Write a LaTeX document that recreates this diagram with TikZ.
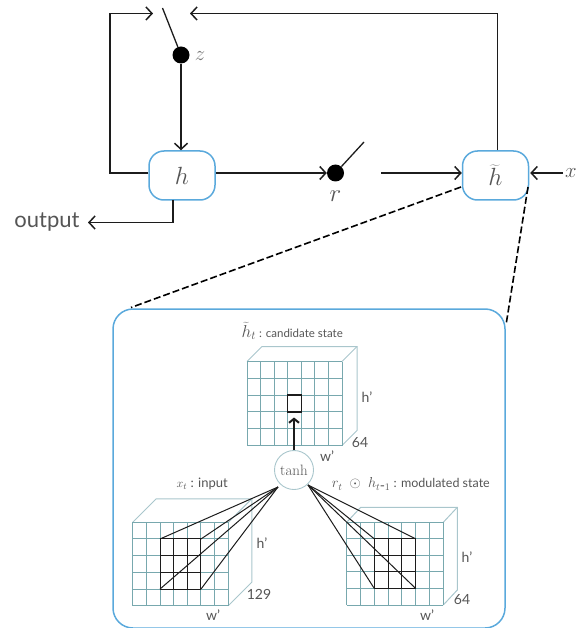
\documentclass[tikz,border=0pt]{standalone}
\usepackage{fontspec}
\setmainfont{Lato}
\usetikzlibrary{arrows.meta,calc}
\definecolor{boxblue}{HTML}{5AA9DC}
\definecolor{gridc}{HTML}{78A8AE}
\definecolor{backc}{HTML}{A9C6CC}
\definecolor{txt}{HTML}{555555}
\definecolor{ink}{HTML}{1C1C1C}
\tikzset{
  conn/.style={draw=ink,line width=1.5pt},
  arr/.style={conn,-{Straight Barb[length=6pt,width=13pt,line width=1.5pt]}},
  sw/.style={draw=ink,line width=1.3pt},
  statebox/.style={draw=boxblue,line width=1.5pt,rounded corners=15pt,minimum width=66pt,minimum height=49pt,inner sep=0pt,fill=white,text=txt},
  swdot/.style={circle,fill=black,minimum size=17pt,inner sep=0pt},
  dash line/.style={draw=black,line width=1.6pt,dash pattern=on 7pt off 3pt},
  lab/.style={text=txt,inner sep=0pt},
  mlab/.style={text=txt,inner sep=0pt,font=\fontsize{14}{16}\selectfont},
  grid line/.style={draw=gridc,line width=1pt},
  back line/.style={draw=backc,line width=1pt},
  kernel/.style={draw=ink,line width=1pt},
}
% #1 x0, #2 y0, #3 x1, #4 y1, #5 dx, #6 dy (back offset)
\newcommand{\gridcube}[6]{%
  \draw[back line] (#1,#2) -- (#1+#5,#2-#6) -- (#3+#5,#2-#6) -- (#3+#5,#4-#6) -- (#3,#4);
  \draw[back line] (#3,#2) -- (#3+#5,#2-#6);
  \foreach \i in {0,...,7} \draw[grid line] ({#1+\i*(#3-#1)/7},#2) -- ({#1+\i*(#3-#1)/7},#4);
  \foreach \j in {0,...,5} \draw[grid line] (#1,{#2+\j*(#4-#2)/5}) -- (#3,{#2+\j*(#4-#2)/5});
}
% #1 x0 #2 y0 #3 x1 #4 y1 of grid, #5 name of apex node
\newcommand{\kernelbox}[5]{%
  \pgfmathsetmacro{\cw}{(#3-#1)/7}\pgfmathsetmacro{\ch}{(#4-#2)/5}
  \foreach \i in {2,...,5} \draw[kernel] ({#1+\i*\cw},{#2+\ch}) -- ({#1+\i*\cw},{#2+4*\ch});
  \foreach \j in {1,...,4} \draw[kernel] ({#1+2*\cw},{#2+\j*\ch}) -- ({#1+5*\cw},{#2+\j*\ch});
  \foreach \i/\j in {2/1,5/1,2/4,5/4} \draw[kernel] (#5) -- ({#1+\i*\cw},{#2+\j*\ch});
}
\begin{document}
\begin{tikzpicture}[x=1pt,y=-1pt]
\useasboundingbox (0,0) rectangle (577,628);
% top part
\node[statebox] (h) at (182,175.5) {\fontsize{27}{29}\selectfont$h$};
\node[statebox] (ht) at (495.5,175.5) {\fontsize{27}{29}\selectfont$\widetilde{h}$};
\node[swdot] (zd) at (181,55) {};
\node[swdot] (rd) at (335.5,173) {};
\coordinate (zarm) at (162.5,8);
\coordinate (rarm) at (364,142);
\coordinate (topl) at (153,13.5);
\coordinate (topr) at (190,13.5);
\coordinate (rout) at (381,173);
\coordinate (xin) at (563,173);
\coordinate (outp) at (88,222.5);
\coordinate (cornl) at (110,13.5);
\coordinate (cornr) at (497.5,13.5);
\coordinate (hl) at (110,173);
\draw[sw] (zd) -- (zarm);
\draw[sw] (rd) -- (rarm);
\draw[arr] (h.west |- hl) -- (hl) -- (cornl) -- (topl);
\draw[arr] (ht.north -| cornr) -- (cornr) -- (topr);
\draw[arr] (zd) -- (h.north -| zd);
\draw[arr] (h.east |- rd) -- (rd.west);
\draw[arr] (rout) -- (ht.west |- rout);
\draw[arr] (xin) -- ($(ht.east |- xin)+(1,0)$);
\coordinate (hb) at (173,200);
\draw[arr] (hb) -- (outp -| hb) -- (outp);
\node[text=txt,inner sep=0pt,font=\fontsize{22}{24}\selectfont] (lo) at (47,222) {output};
\node[text=txt!80,inner sep=0pt,font=\fontsize{21}{23}\selectfont] (lz) at (200,56) {$z$};
\node[text=txt,inner sep=0pt,font=\fontsize{23}{25}\selectfont] (lr) at (335.5,196) {$r$};
\node[text=txt,inner sep=0pt,font=\fontsize{20}{22}\selectfont] (lx) at (571,173) {$x$};
% big box
\node[draw=boxblue,line width=1.5pt,rounded corners=20pt,minimum width=392pt,minimum height=319pt,inner sep=0pt] (big) at (309,468.5) {};
\coordinate (dl) at (131,307.5);
\coordinate (dr) at (506,325);
\coordinate (hl0) at (461,187);
\coordinate (hr0) at (528,187);
\draw[dash line] (hl0) -- (dl);
\draw[dash line] (hr0) -- (dr);
% cubes
\gridcube{247}{361.5}{342}{445.5}{15}{15}
\draw[draw=ink,line width=1.2pt] (287.7,395) rectangle (301.3,412);
\gridcube{132.7}{522.3}{228.3}{605.7}{23.5}{23.5}
\gridcube{346.7}{522.3}{443.3}{605}{14}{15}
% tanh
\node[circle,draw=backc,line width=0.9pt,fill=white,minimum size=39pt,inner sep=0pt,text=txt,font=\fontsize{15}{17}\selectfont] (tanh) at (294,470) {\fontspec{Latin Modern Roman}tanh};
\coordinate (kl) at (278,487);
\coordinate (kr) at (308,485);
\kernelbox{132.7}{522.3}{228.3}{605.7}{kl}
\kernelbox{346.7}{522.3}{443.3}{605}{kr}
\coordinate (sqb) at (294,417.5);
\draw[draw=ink,line width=2pt,-{Straight Barb[length=4pt,width=10pt,line width=2pt]}] (tanh) -- (sqb);
% labels
\node[lab,anchor=east,font=\fontsize{11.5}{14}\selectfont] (t1) at (343,331) {{\fontsize{17}{19}\selectfont$\widetilde{h}_{t}$} : candidate state};
\node[lab,anchor=east,font=\fontsize{13}{15}\selectfont] (t2) at (228,484) {$x_{t}$ : input};
\node[lab,anchor=east,font=\fontsize{12.5}{15}\selectfont] (t3) at (490,484) {{\fontsize{14}{16}\selectfont$r_{t}\;\odot\;h_{t\mbox{-}1}$} : modulated state};
\node[mlab] (a1) at (367,397) {h'};
\node[mlab] (a2) at (360,443) {64};
\node[mlab] (a3) at (327,456) {w'};
\node[mlab] (b1) at (262,543) {h'};
\node[mlab] (b2) at (259,594) {129};
\node[mlab] (b3) at (213,615) {w'};
\node[mlab] (c1) at (467,557) {h'};
\node[mlab] (c2) at (462,600) {64};
\node[mlab] (c3) at (427,615) {w'};
\end{tikzpicture}
\end{document}
